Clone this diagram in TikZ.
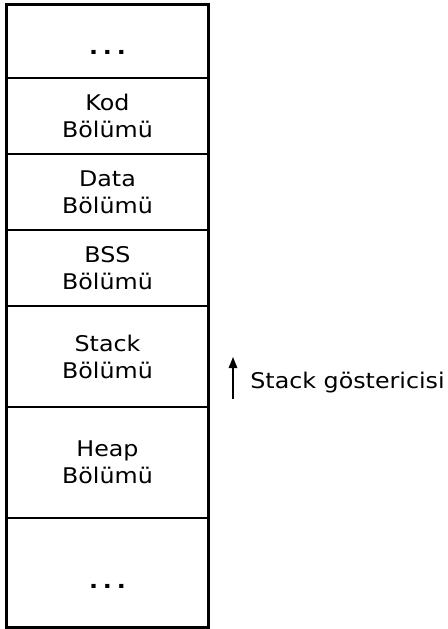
\documentclass[tikz,border=0pt]{standalone}
\usepackage{fontspec}
\setmainfont{DejaVu Sans}[FakeStretch=1.1]
\usetikzlibrary{arrows.meta}

\begin{document}
\begin{tikzpicture}[x=0.5pt, y=-0.5pt,
segment/.style={rectangle, draw, line width=1.35pt, minimum width=100.8pt, inner sep=0pt, align=center, font=\fontsize{10.8}{13.5}\selectfont},
dots/.style={anchor=base, inner sep=0pt, font=\fontsize{10.8}{13.5}\selectfont\bfseries},
pointer/.style={-{Triangle[length=5.5pt,width=4.2pt]}, line width=0.8pt},
pointertext/.style={anchor=base west, inner sep=0pt, font=\fontsize{10.8}{13.5}\selectfont}
]
\useasboundingbox (0,0) rectangle (448,629);
% memory segments, top to bottom
\node[segment, minimum height=36.75pt] (upper) at (107.5,41.25) {};
\node[dots] (upperdots) at (107.5,54) {.\hspace{2.4pt}.\hspace{2.4pt}.};
\node[segment, minimum height=38pt] (kod) at (107.5,116) {Kod\\Bölümü};
\node[segment, minimum height=38pt] (data) at (107.5,192) {Data\\Bölümü};
\node[segment, minimum height=38pt] (bss) at (107.5,268) {BSS\\Bölümü};
\node[segment, minimum height=50.5pt] (stack) at (107.5,356.5) {Stack\\Bölümü};
\node[segment, minimum height=55.5pt] (heap) at (107.5,462.5) {Heap\\Bölümü};
\node[segment, minimum height=54.75pt] (lower) at (107.5,572.75) {};
\node[dots] (lowerdots) at (107.5,588) {.\hspace{2.4pt}.\hspace{2.4pt}.};
% stack pointer
\coordinate (sptail) at (233,399);
\coordinate (sphead) at (233,357);
\draw[pointer] (sptail) -- (sphead);
\node[pointertext] (sptext) at (250,388) {Stack göstericisi};
\end{tikzpicture}
\end{document}
